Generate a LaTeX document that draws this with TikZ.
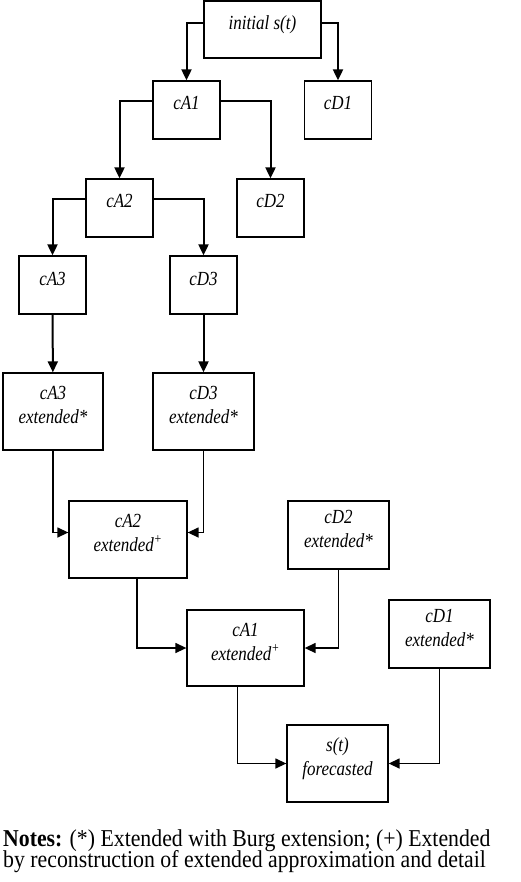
\documentclass[tikz,border=0pt]{standalone}
\usepackage{fontspec}
\setmainfont{Liberation Serif}[FakeStretch=0.85]
\newfontfamily\notesfont{Liberation Serif}[FakeStretch=0.9]
\usepackage{tikz}
\usetikzlibrary{arrows.meta,positioning}
\tikzset{>={Triangle[length=11pt,width=10pt]}}

\begin{document}
\begin{tikzpicture}[x=1pt, y=-1pt,
  box/.style={draw, line width=1.3pt, align=center, inner sep=0pt,
    font=\fontsize{20}{24}\selectfont\itshape},
  one/.style={text height=12pt, text depth=12pt},
  two/.style={text height=38pt, text depth=14pt},
  main/.style={->, line width=2pt},
  back/.style={->, line width=1.4pt}]
  \useasboundingbox (0,0) rectangle (520,882);

  % Decomposition
  \node[box,one,minimum width=117pt,minimum height=57pt] (init) at (262.5,29.5) {initial s(t)};
  \node[box,one,minimum width=67pt,minimum height=58pt] (cA1) at (186.5,110) {cA1};
  \node[box,one,minimum width=67pt,minimum height=58pt] (cD1) at (338,110) {cD1};
  \node[box,one,minimum width=67pt,minimum height=58pt] (cA2) at (119.5,208) {cA2};
  \node[box,one,minimum width=67pt,minimum height=58pt] (cD2) at (270.5,208) {cD2};
  \node[box,one,minimum width=67pt,minimum height=58pt] (cA3) at (52.5,285) {cA3};
  \node[box,one,minimum width=67pt,minimum height=58pt] (cD3) at (203.5,285) {cD3};

  % Extended coefficients
  \node[box,two,minimum width=100pt,minimum height=77pt] (cA3e) at (53,411.5) {cA3\\extended*};
  \node[box,two,minimum width=101pt,minimum height=77pt] (cD3e) at (203.5,411.5) {cD3\\extended*};
  \node[box,two,minimum width=118pt,minimum height=77pt] (cA2e) at (128,539.5) {cA2\\extended\textsuperscript{+}};
  \node[box,two,minimum width=101pt,minimum height=68pt] (cD2e) at (338.5,535) {cD2\\extended*};
  \node[box,two,minimum width=117pt,minimum height=76pt] (cA1e) at (245.5,648) {cA1\\extended\textsuperscript{+}};
  \node[box,two,minimum width=101pt,minimum height=68pt] (cD1e) at (439.5,634) {cD1\\extended*};
  \node[box,two,minimum width=101pt,minimum height=77pt] (fc) at (337.5,763.5) {s(t)\\forecasted};

  % Edges
  \draw[main] ([yshift=6pt]init.west) -| (cA1.north);
  \draw[main] ([yshift=6pt]init.east) -| (cD1.north);
  \draw[main] ([yshift=9pt]cA1.west) -| (cA2.north);
  \draw[main] ([yshift=9pt]cA1.east) -| (cD2.north);
  \draw[main] ([yshift=9pt]cA2.west) -| (cA3.north);
  \draw[main] ([yshift=9pt]cA2.east) -| (cD3.north);
  \draw[main] (cA3) -- (cA3e);
  \draw[main] (cD3) -- (cD3e);

  % Reconstruction
  \draw[back] (cA3e.south) |- ([yshift=7pt]cA2e.west);
  \draw[back] (cD3e.south) |- ([yshift=7pt]cA2e.east);
  \draw[back] ([xshift=9pt]cA2e.south) |- (cA1e.west);
  \draw[back] (cD2e.south) |- (cA1e.east);
  \draw[back] ([xshift=-8pt]cA1e.south) |- (fc.west);
  \draw[back] (cD1e.south) |- (fc.east);

  % Notes
  \node[anchor=base west, align=left, inner sep=0pt,
    font={\notesfont\fontsize{24.2}{21}\selectfont\lineskiplimit=-50pt}] (notes) at (3,867)
    {\textbf{Notes:} (*) Extended with Burg extension; (+) Extended\\by reconstruction of extended approximation and detail};
\end{tikzpicture}
\end{document}
